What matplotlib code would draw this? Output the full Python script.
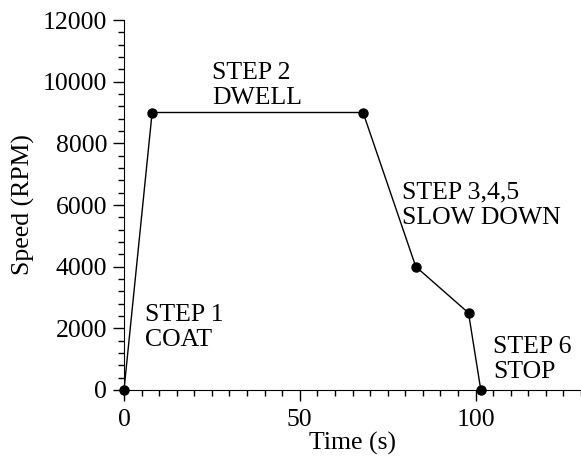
import matplotlib
matplotlib.use('Agg')
import matplotlib.pyplot as plt
from matplotlib.ticker import MultipleLocator

plt.rcParams['font.family'] = ['Liberation Serif', 'DejaVu Serif']

# spin profile: time (s) vs speed (RPM)
time_s = [0, 8, 68, 83, 98, 101.5]
speed_rpm = [0, 9000, 9000, 4000, 2500, 0]

step_labels = ['STEP 1\nCOAT', 'STEP 2\nDWELL', 'STEP 3,4,5\nSLOW DOWN', 'STEP 6\nSTOP']
label_x = [6, 25, 79, 105]
label_top = [2800, 10650, 6750, 1760]

fig = plt.figure(figsize=(5.81, 4.62), dpi=100)
ax = fig.add_axes([124 / 581, 72 / 462, 1 - 124 / 581, 370 / 462])

ax.plot(time_s, speed_rpm, color='black', linewidth=1.0, marker='o',
        markersize=6.5, markerfacecolor='black', clip_on=False, zorder=3)

for txt, x, y in zip(step_labels, label_x, label_top):
    ax.text(x, y, txt, fontsize=18.5, ha='left', va='top', linespacing=1.2)

ax.set_xlim(0, 130)
ax.set_ylim(0, 12000)
ax.xaxis.set_major_locator(MultipleLocator(50))
ax.xaxis.set_minor_locator(MultipleLocator(5))
ax.yaxis.set_major_locator(MultipleLocator(2000))
ax.yaxis.set_minor_locator(MultipleLocator(400))

ax.spines['top'].set_visible(False)
ax.spines['right'].set_visible(False)
ax.tick_params(which='major', length=8, width=1, labelsize=18.5, pad=4)
ax.tick_params(which='minor', length=4, width=1)
ax.tick_params(axis='x', which='major', pad=6)

ax.set_xlabel('Time (s)', fontsize=18.5, labelpad=0)
ax.set_ylabel('Speed (RPM)', fontsize=18.5, labelpad=6)

fig.savefig('out.png', dpi=100)
